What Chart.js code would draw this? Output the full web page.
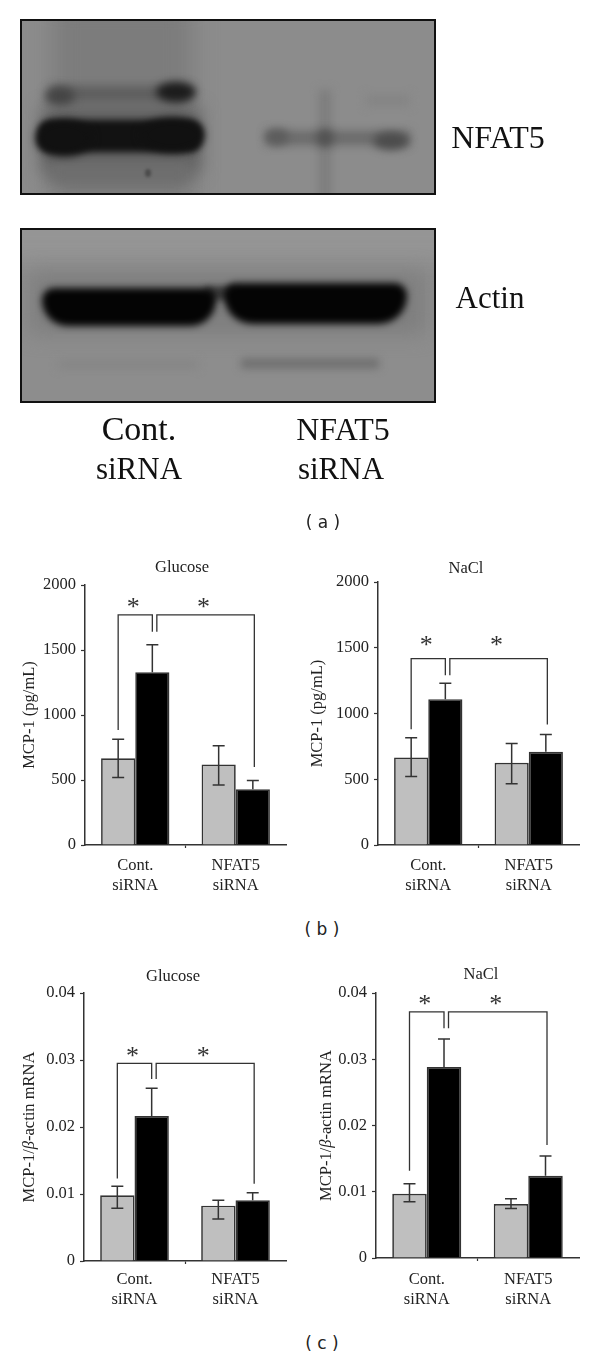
<!DOCTYPE html>
<html>
<head>
<meta charset="utf-8">
<title>MCP-1 after NFAT5 siRNA</title>
<script src="https://cdn.jsdelivr.net/npm/chart.js@4"></script>
<style>
  html, body { margin: 0; padding: 0; background: #fff; }
  #page { position: relative; width: 600px; height: 1358px; overflow: hidden; }
  canvas { position: absolute; }
  .blotLabel { position: absolute; font: 31px/36px "Liberation Serif", serif; color: #111; transform: translate(-50%, -50%); white-space: nowrap; }
  .panelLabel { position: absolute; font: 17px/20px "DejaVu Sans", sans-serif; color: #222; transform: translate(-50%, -50%); white-space: pre; }
</style>
</head>
<body>
<div id="page">
  <canvas id="blot" width="600" height="420" style="left:0;top:0"></canvas>

  <div class="blotLabel" style="left:498px;top:137px;font-size:32px">NFAT5</div>
  <div class="blotLabel" style="left:490px;top:298px">Actin</div>
  <div class="blotLabel" style="left:139px;top:429px;font-size:34px">Cont.</div>
  <div class="blotLabel" style="left:139px;top:469px">siRNA</div>
  <div class="blotLabel" style="left:343px;top:429px;font-size:32px">NFAT5</div>
  <div class="blotLabel" style="left:341px;top:469px">siRNA</div>

  <div class="panelLabel" style="left:323px;top:522px">( a )</div>
  <div class="panelLabel" style="left:322px;top:929px">( b )</div>
  <div class="panelLabel" style="left:322px;top:1343px">( c )</div>

  <canvas id="proteinGlucose"></canvas>
  <canvas id="proteinNacl"></canvas>
  <canvas id="mrnaGlucose"></canvas>
  <canvas id="mrnaNacl"></canvas>
</div>

<script>
const categories = [['Cont.', 'siRNA'], ['NFAT5', 'siRNA']]

// panel b, left
const proteinGlucoseGrey = [667, 620]
const proteinGlucoseBlack = [1328, 428]
const proteinGlucoseGreyHigh = [813, 764]
const proteinGlucoseGreyLow = [520, 461]
const proteinGlucoseBlackHigh = [1540, 497]
// top, left foot, inner foot, right foot
const proteinGlucoseBracket = [1770, 885, 1640, 600]

// panel b, right
const proteinNaclGrey = [666, 625]
const proteinNaclBlack = [1109, 709]
const proteinNaclGreyHigh = [815, 772]
const proteinNaclGreyLow = [521, 466]
const proteinNaclBlackHigh = [1230, 840]
const proteinNaclBracket = [1418, 881, 1291, 916]

// panel c, left
const mrnaGlucoseGrey = [0.0098, 0.00826]
const mrnaGlucoseBlack = [0.02164, 0.00905]
const mrnaGlucoseGreyHigh = [0.01114, 0.00905]
const mrnaGlucoseGreyLow = [0.00786, 0.00627]
const mrnaGlucoseBlackHigh = [0.02577, 0.0102]
const mrnaGlucoseBracket = [0.0295, 0.0123, 0.02716, 0.01154]

// panel c, right
const mrnaNaclGrey = [0.0097, 0.00814]
const mrnaNaclBlack = [0.02884, 0.01241]
const mrnaNaclGreyHigh = [0.0112, 0.00894]
const mrnaNaclGreyLow = [0.00849, 0.00749]
const mrnaNaclBlackHigh = [0.03307, 0.01538]
const mrnaNaclBracket = [0.03714, 0.01317, 0.03467, 0.01704]

const proteinTitle = [{text: 'MCP-1 (pg/mL)'}]
const mrnaTitle = [{text: 'MCP-1/'}, {text: 'β', italic: true}, {text: '-actin mRNA'}]

const serif = '"Liberation Serif", serif'
const ink = '#222'
const lineColor = '#333'
const labelSize = 16.5


// error bars, brackets, asterisks, title and rotated axis text
const panelMarks = {
  id: 'panelMarks',
  afterDatasetsDraw(chart, args, opts) {
    const ctx = chart.ctx
    const y = chart.scales.y
    const grey = chart.getDatasetMeta(0).data
    const black = chart.getDatasetMeta(1).data

    ctx.save()
    ctx.strokeStyle = lineColor
    ctx.lineWidth = 1.5

    const errorBar = (x, from, to, capBoth) => {
      const top = y.getPixelForValue(to)
      const bottom = y.getPixelForValue(from)
      ctx.beginPath()
      ctx.moveTo(x, bottom)
      ctx.lineTo(x, top)
      ctx.moveTo(x - 6, top)
      ctx.lineTo(x + 6, top)
      if (capBoth) {
        ctx.moveTo(x - 6, bottom)
        ctx.lineTo(x + 6, bottom)
      }
      ctx.stroke()
    }

    grey.forEach((bar, i) => errorBar(bar.x, opts.greyLow[i], opts.greyHigh[i], true))
    black.forEach((bar, i) => errorBar(bar.x, opts.black[i], opts.blackHigh[i], false))

    const [top, leftFoot, innerFoot, rightFoot] = opts.bracket.map(v => y.getPixelForValue(v))
    const x1 = grey[0].x
    const x2 = black[0].x
    const x3 = black[0].x + 4.5
    const x4 = black[1].x + 1.5
    ctx.lineWidth = 1.3
    ctx.beginPath()
    ctx.moveTo(x1, leftFoot)
    ctx.lineTo(x1, top)
    ctx.lineTo(x2, top)
    ctx.lineTo(x2, innerFoot)
    ctx.moveTo(x3, innerFoot)
    ctx.lineTo(x3, top)
    ctx.lineTo(x4, top)
    ctx.lineTo(x4, rightFoot)
    ctx.stroke()

    // asterisk centre sits 0.47em over the baseline in this font
    const starSize = 26
    ctx.fillStyle = lineColor
    ctx.font = starSize + 'px ' + serif
    ctx.textAlign = 'center'
    ctx.textBaseline = 'alphabetic'
    const starY = top - opts.starGap + 0.47 * starSize
    ctx.fillText('*', (x1 + x2) / 2 - 2, starY)
    ctx.fillText('*', (x3 + x4) / 2 - 2, starY)

    ctx.fillStyle = ink
    ctx.font = labelSize + 'px ' + serif
    ctx.textBaseline = 'middle'
    ctx.fillText(opts.title, opts.titleX, chart.chartArea.top - opts.titleRise)

    ctx.translate(opts.axisTextX, (chart.chartArea.top + chart.chartArea.bottom) / 2)
    ctx.rotate(-Math.PI / 2)
    ctx.textAlign = 'left'
    const fontFor = part => (part.italic ? 'italic ' : '') + labelSize + 'px ' + serif
    let width = 0
    opts.axisText.forEach(part => {
      ctx.font = fontFor(part)
      width += ctx.measureText(part.text).width
    })
    let pos = -width / 2
    opts.axisText.forEach(part => {
      ctx.font = fontFor(part)
      ctx.fillText(part.text, pos, 0)
      pos += ctx.measureText(part.text).width
    })
    ctx.restore()
  },
}


function drawPanel(id, box, marks, greyData, blackData, yMax, yStep) {
  const canvas = document.getElementById(id)
  const padTop = 30
  const padRight = 10
  const axisBelow = 60
  const yAxisWidth = box.axisX - box.left

  canvas.width = box.right + padRight - box.left
  canvas.height = padTop + box.bottom - box.top + axisBelow
  canvas.style.left = box.left + 'px'
  canvas.style.top = (box.top - padTop) + 'px'

  marks.black = blackData

  new Chart(canvas, {
    type: 'bar',
    data: {
      labels: categories,
      datasets: [
        {label: 'Grey', data: greyData, backgroundColor: '#BFBFBF', borderColor: lineColor, borderWidth: 1.7},
        {label: 'Black', data: blackData, backgroundColor: '#000', borderColor: lineColor, borderWidth: 1.7},
      ],
    },
    options: {
      responsive: false,
      animation: false,
      categoryPercentage: 0.68,
      barPercentage: 1,
      layout: {autoPadding: false, padding: {top: padTop, right: padRight, bottom: 0, left: 0}},
      plugins: {
        legend: {display: false},
        tooltip: {enabled: false},
        panelMarks: marks,
      },
      scales: {
        x: {
          border: {color: lineColor, width: 1.5},
          grid: {
            drawOnChartArea: false,
            tickLength: 3,
            tickWidth: 1.2,
            tickColor: c => (c.index === 1 ? lineColor : 'transparent'),
          },
          ticks: {
            maxRotation: 0,
            minRotation: 0,
            autoSkip: false,
            padding: box.labelGap,
            color: ink,
            font: {family: serif, size: labelSize, lineHeight: 1.21},
          },
          afterFit(scale) { scale.height = axisBelow },
        },
        y: {
          min: 0,
          max: yMax,
          border: {color: lineColor, width: 1.5},
          grid: {drawOnChartArea: false, tickLength: 4, tickWidth: 1.2, tickColor: lineColor},
          ticks: {
            stepSize: yStep,
            padding: 5,
            color: ink,
            font: {family: serif, size: labelSize},
            callback: value => String(value),
          },
          afterFit(scale) { scale.width = yAxisWidth },
        },
      },
    },
    plugins: [panelMarks],
  })
}


drawPanel('proteinGlucose',
  {left: 0, axisX: 85, right: 286, top: 585, bottom: 845, labelGap: 8},
  {greyLow: proteinGlucoseGreyLow, greyHigh: proteinGlucoseGreyHigh, blackHigh: proteinGlucoseBlackHigh,
    bracket: proteinGlucoseBracket, starGap: 12, title: 'Glucose', titleX: 182, titleRise: 17,
    axisText: proteinTitle, axisTextX: 30},
  proteinGlucoseGrey, proteinGlucoseBlack, 2000, 500)

drawPanel('proteinNacl',
  {left: 300, axisX: 378, right: 579, top: 582, bottom: 845, labelGap: 8},
  {greyLow: proteinNaclGreyLow, greyHigh: proteinNaclGreyHigh, blackHigh: proteinNaclBlackHigh,
    bracket: proteinNaclBracket, starGap: 18, title: 'NaCl', titleX: 166, titleRise: 13,
    axisText: proteinTitle, axisTextX: 18},
  proteinNaclGrey, proteinNaclBlack, 2000, 500)

drawPanel('mrnaGlucose',
  {left: 0, axisX: 84, right: 286, top: 993, bottom: 1261, labelGap: 6},
  {greyLow: mrnaGlucoseGreyLow, greyHigh: mrnaGlucoseGreyHigh, blackHigh: mrnaGlucoseBlackHigh,
    bracket: mrnaGlucoseBracket, starGap: 12, title: 'Glucose', titleX: 173, titleRise: 16,
    axisText: mrnaTitle, axisTextX: 30},
  mrnaGlucoseGrey, mrnaGlucoseBlack, 0.04, 0.01)

drawPanel('mrnaNacl',
  {left: 300, axisX: 376, right: 579, top: 993, bottom: 1258, labelGap: 9},
  {greyLow: mrnaNaclGreyLow, greyHigh: mrnaNaclGreyHigh, blackHigh: mrnaNaclBlackHigh,
    bracket: mrnaNaclBracket, starGap: 12, title: 'NaCl', titleX: 181, titleRise: 18,
    axisText: mrnaTitle, axisTextX: 27},
  mrnaNaclGrey, mrnaNaclBlack, 0.04, 0.01)


// the western blot photographs, just soft dark shapes on grey
function blotShape(ctx, blur, color, cx, cy, rx, ry) {
  ctx.filter = 'blur(' + blur + 'px)'
  ctx.fillStyle = color
  ctx.beginPath()
  ctx.ellipse(cx, cy, rx, ry, 0, 0, Math.PI * 2)
  ctx.fill()
}

function blotRect(ctx, blur, color, x, y, w, h, radius) {
  ctx.filter = 'blur(' + blur + 'px)'
  ctx.fillStyle = color
  ctx.beginPath()
  ctx.roundRect(x, y, w, h, radius || 0)
  ctx.fill()
}

function drawBlots() {
  const ctx = document.getElementById('blot').getContext('2d')

  ctx.save()
  ctx.beginPath()
  ctx.rect(21, 20, 414, 174)
  ctx.clip()
  ctx.fillStyle = '#8c8c8c'
  ctx.fillRect(21, 20, 414, 174)
  blotRect(ctx, 12, '#7c7c7c', 52, 0, 140, 215)
  blotRect(ctx, 9, '#5e5e5e', 42, 108, 158, 65)
  blotRect(ctx, 7, '#6e6e6e', 50, 160, 140, 24)
  blotRect(ctx, 5, '#5e5e5e', 50, 86, 140, 16)
  blotShape(ctx, 5, '#444', 60, 96, 15, 9)
  blotShape(ctx, 4, '#1c1c1c', 176, 92, 20, 10)
  blotRect(ctx, 3, '#121212', 38, 120, 164, 32, 12)
  blotShape(ctx, 4, '#111', 64, 138, 28, 18)
  blotShape(ctx, 4, '#111', 172, 135, 32, 17)
  blotShape(ctx, 1.5, '#4a4a4a', 148, 173, 3, 4)
  blotRect(ctx, 5, '#7c7c7c', 319, 90, 12, 115)
  blotRect(ctx, 5, '#848484', 366, 95, 44, 11)
  blotRect(ctx, 5, '#6a6a6a', 266, 131, 144, 14)
  blotShape(ctx, 4, '#5c5c5c', 277, 137, 12, 8)
  blotShape(ctx, 4, '#525252', 325, 138, 9, 9)
  blotShape(ctx, 4, '#4c4c4c', 391, 141, 18, 9)
  ctx.restore()

  ctx.save()
  ctx.beginPath()
  ctx.rect(21, 229, 414, 173)
  ctx.clip()
  ctx.fillStyle = '#8d8d8d'
  ctx.fillRect(21, 229, 414, 173)
  blotRect(ctx, 10, '#959595', 0, 200, 460, 60)
  blotRect(ctx, 10, '#7e7e7e', 30, 272, 395, 62)
  blotRect(ctx, 4, '#6c6c6c', 241, 359, 138, 9)
  blotRect(ctx, 5, '#848484', 58, 361, 140, 7)
  blotRect(ctx, 3, '#3a3a3a', 205, 286, 30, 14)
  blotRect(ctx, 3.5, '#040404', 42, 288, 174, 38, [16, 16, 34, 34])
  blotRect(ctx, 3.5, '#040404', 224, 283, 183, 41, [16, 16, 36, 36])
  ctx.restore()

  ctx.filter = 'none'
  ctx.strokeStyle = '#111'
  ctx.lineWidth = 2
  ctx.strokeRect(21, 20, 414, 174)
  ctx.strokeRect(21, 229, 414, 173)
}

drawBlots()
</script>
</body>
</html>
